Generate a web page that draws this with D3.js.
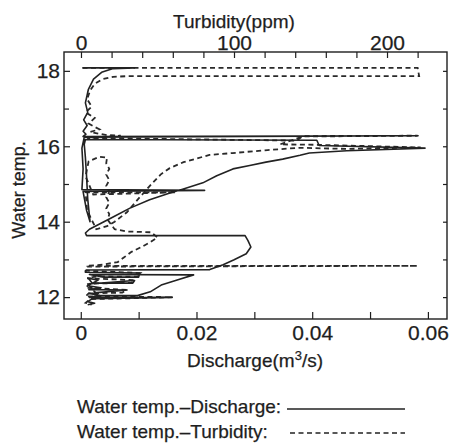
<!DOCTYPE html>
<html>
<head>
<meta charset="utf-8">
<script src="https://cdn.jsdelivr.net/npm/d3@7"></script>
<style>
  html, body { margin: 0; padding: 0; background: #fff; }
  svg { display: block; font-family: "Liberation Sans", Arial, Helvetica, sans-serif; }
  svg text { stroke: #1e1e1e; stroke-width: 0.25px; }
</style>
</head>
<body>
<div id="chart"></div>
<script>
// axis ticks
const dischargeTicks = [0, 0.02, 0.04, 0.06];
const dischargeMinor = [0.01, 0.03, 0.05];
const turbidityTicks = [0, 100, 200];
const turbidityMinor = [20, 40, 60, 80, 120, 140, 160, 180, 220];
const tempTicks = [12, 14, 16, 18];
const tempMinor = [13, 15, 17];
const tempRightTicks = [12, 13, 14, 15, 16, 17, 18];

// [discharge m3/s, water temp] in time order
const dischargeSeries = [
  [0.0003, 18.08], [0.0093, 18.08], [0.0056, 18.06], [0.0036, 17.96], [0.0022, 17.78],
  [0.0013, 17.5], [0.0008, 17.15], [0.0012, 16.9], [0.0005, 16.7], [0.0011, 16.55],
  [0.0004, 16.4], [0.0009, 16.32], [0.0004, 16.26],
  [0.0583, 16.28], [0.0006, 16.24],
  [0.0002, 15.95], [0.0004, 15.4], [0.0002, 14.85],
  [0.0214, 14.83], [0.0004, 14.8],
  [0.0010, 14.3], [0.0016, 14.0], [0.0012, 14.6], [0.0010, 15.2], [0.0008, 15.7],
  [0.0006, 16.05], [0.0008, 16.18],
  [0.0408, 16.16], [0.0412, 16.02], [0.0595, 15.95], [0.0460, 15.88], [0.0395, 15.82],
  [0.0379, 15.76], [0.0349, 15.66], [0.0320, 15.58], [0.0292, 15.49], [0.0263, 15.40],
  [0.0235, 15.22], [0.0211, 15.03], [0.0176, 14.86], [0.0154, 14.76], [0.0119, 14.58],
  [0.0085, 14.36], [0.0055, 14.12], [0.0030, 13.92], [0.0015, 13.8], [0.0008, 13.7],
  [0.0010, 13.63],
  [0.0284, 13.63], [0.0289, 13.5], [0.0294, 13.33], [0.0286, 13.15], [0.0265, 12.99],
  [0.0246, 12.86], [0.0223, 12.73], [0.0010, 12.72],
  [0.0008, 12.66], [0.0102, 12.64], [0.0100, 12.53], [0.0040, 12.53], [0.0015, 12.6],
  [0.0195, 12.59], [0.0168, 12.46], [0.0139, 12.32], [0.0120, 12.14], [0.0098, 12.04],
  [0.0030, 12.04], [0.0012, 12.35], [0.0093, 12.44], [0.0090, 12.37], [0.0020, 12.37],
  [0.0013, 12.5], [0.0030, 12.45], [0.0012, 12.3], [0.0035, 12.25], [0.0014, 12.2],
  [0.0080, 12.19], [0.0028, 12.12], [0.0014, 12.1], [0.0032, 12.05], [0.0015, 11.99],
  [0.0158, 11.99], [0.0020, 11.96], [0.0012, 11.88], [0.0024, 11.84], [0.0012, 11.8]
];

// [turbidity ppm, water temp] in time order
const turbiditySeries = [
  [1, 18.08], [220, 18.08], [221, 17.86], [30, 17.86], [21, 17.84], [14, 17.78],
  [9, 17.66], [6, 17.48], [4, 17.25], [7, 17.05], [3, 16.9], [9, 16.75], [5, 16.6],
  [12, 16.45], [6, 16.38], [16, 16.3], [26, 16.28], [10, 16.24], [4, 16.22],
  [141, 16.15], [145, 16.27], [220, 16.28], [145, 16.26], [130, 16.05], [152, 16.04],
  [222, 15.97], [174, 15.93], [143, 15.96], [122, 15.9], [99, 15.82], [84, 15.77],
  [67, 15.58], [58, 15.42], [52, 15.25], [45, 14.95], [38, 14.63], [30, 14.25],
  [22, 14.0], [17, 13.88], [10, 13.8],
  [4, 14.3], [3, 14.78], [62, 14.78], [8, 14.72], [3, 15.2], [5, 15.6], [12, 15.72],
  [17, 15.7], [16.5, 15.55], [18.5, 15.4], [16.5, 15.25], [18.5, 15.1], [16.5, 14.95],
  [18.5, 14.8], [16.5, 14.65], [18.5, 14.5], [16.5, 14.35], [18.5, 14.2], [17.5, 14.05],
  [22, 13.8], [30, 13.74], [46, 13.72],
  [50, 13.58], [45, 13.45], [40, 13.34], [33, 13.2], [28, 13.05], [24, 12.93],
  [14, 12.86], [4, 12.83], [220, 12.83], [4, 12.81],
  [3, 12.7], [39, 12.64], [37, 12.54], [10, 12.55], [4, 12.5], [35, 12.45], [33, 12.38],
  [6, 12.36], [3, 12.25], [30, 12.19], [27, 12.12], [5, 12.1], [3, 12.02], [60, 12.0],
  [32, 11.97], [6, 11.95], [3, 11.85], [7, 11.8]
];

const legendItems = [
  { label: "Water temp.\u2013Discharge:", dash: null },
  { label: "Water temp.\u2013Turbidity:", dash: "5,3.5" }
];

const W = 451, H = 446;
const plot = { left: 64, right: 447, top: 52, bottom: 319 };
const ink = "#1e1e1e";

const svg = d3.select("#chart").append("svg")
  .attr("width", W)
  .attr("height", H);

const x = d3.scaleLinear().domain([-0.0029, 0.0633]).range([plot.left, plot.right]);
const xTop = d3.scaleLinear().domain([-11.1, 239.2]).range([plot.left, plot.right]);
const y = d3.scaleLinear().domain([11.42, 18.5]).range([plot.bottom, plot.top]);

function styleAxis(g, fontSize) {
  g.select(".domain").remove();
  g.selectAll(".tick line").attr("stroke", ink).attr("stroke-width", 1.2);
  g.selectAll(".tick text")
    .attr("fill", ink)
    .style("font-size", fontSize + "px");
}

// bottom: discharge
svg.append("g")
  .attr("transform", `translate(0,${plot.bottom})`)
  .call(d3.axisBottom(x).tickValues(dischargeTicks).tickSize(-7).tickPadding(6)
    .tickFormat(d => d === 0 ? "0" : d3.format(".2f")(d)))
  .call(g => styleAxis(g, 21));
svg.append("g")
  .attr("transform", `translate(0,${plot.bottom})`)
  .call(d3.axisBottom(x).tickValues(dischargeMinor).tickSize(-7).tickFormat(""))
  .call(g => styleAxis(g, 21));

// top: turbidity
svg.append("g")
  .attr("transform", `translate(0,${plot.top})`)
  .call(d3.axisTop(xTop).tickValues(turbidityTicks).tickSize(-6).tickPadding(2))
  .call(g => styleAxis(g, 21));
svg.append("g")
  .attr("transform", `translate(0,${plot.top})`)
  .call(d3.axisTop(xTop).tickValues(turbidityMinor).tickSize(-6).tickFormat(""))
  .call(g => styleAxis(g, 21));

// left: water temp
svg.append("g")
  .attr("transform", `translate(${plot.left},0)`)
  .call(d3.axisLeft(y).tickValues(tempTicks).tickSize(-6).tickPadding(4))
  .call(g => styleAxis(g, 21));
svg.append("g")
  .attr("transform", `translate(${plot.left},0)`)
  .call(d3.axisLeft(y).tickValues(tempMinor).tickSize(-5).tickFormat(""))
  .call(g => styleAxis(g, 21));

// right: inward ticks only
svg.append("g")
  .attr("transform", `translate(${plot.right},0)`)
  .call(d3.axisLeft(y).tickValues(tempRightTicks).tickSize(4).tickFormat(""))
  .call(g => styleAxis(g, 21));

// frame
svg.append("rect")
  .attr("x", plot.left)
  .attr("y", plot.top)
  .attr("width", plot.right - plot.left)
  .attr("height", plot.bottom - plot.top)
  .attr("fill", "none")
  .attr("stroke", ink)
  .attr("stroke-width", 1.4);

svg.append("clipPath").attr("id", "plot-clip")
  .append("rect")
  .attr("x", plot.left).attr("y", plot.top)
  .attr("width", plot.right - plot.left)
  .attr("height", plot.bottom - plot.top);

const lines = svg.append("g").attr("clip-path", "url(#plot-clip)");

lines.append("path")
  .datum(turbiditySeries)
  .attr("fill", "none")
  .attr("stroke", "#2a2a2a")
  .attr("stroke-width", 1.8)
  .attr("stroke-dasharray", "5,3.5")
  .attr("d", d3.line().x(d => xTop(d[0])).y(d => y(d[1])));

lines.append("path")
  .datum(dischargeSeries)
  .attr("fill", "none")
  .attr("stroke", "#222")
  .attr("stroke-width", 1.6)
  .attr("stroke-linejoin", "round")
  .attr("d", d3.line().x(d => x(d[0])).y(d => y(d[1])));

// axis titles
svg.append("text")
  .attr("x", 234).attr("y", 28)
  .attr("text-anchor", "middle")
  .attr("fill", ink)
  .style("font-size", "19px")
  .text("Turbidity(ppm)");

const xTitle = svg.append("text")
  .attr("x", 255).attr("y", 367)
  .attr("text-anchor", "middle")
  .attr("fill", ink)
  .style("font-size", "19px");
xTitle.append("tspan").text("Discharge(m");
xTitle.append("tspan").attr("dy", -7).style("font-size", "13px").text("3");
xTitle.append("tspan").attr("dy", 7).text("/s)");

svg.append("text")
  .attr("transform", "translate(25,190) rotate(-90)")
  .attr("text-anchor", "middle")
  .attr("fill", ink)
  .style("font-size", "18px")
  .text("Water temp.");

// legend
const legend = svg.append("g").attr("transform", "translate(77,413)");
legendItems.forEach((item, i) => {
  const row = legend.append("g").attr("transform", `translate(0,${i * 25})`);
  row.append("text")
    .attr("fill", ink)
    .style("font-size", "19px")
    .text(item.label);
  row.append("line")
    .attr("x1", item.dash ? 213 : 210).attr("x2", 328)
    .attr("y1", item.dash ? -5 : -4).attr("y2", item.dash ? -5 : -4)
    .attr("stroke", "#222")
    .attr("stroke-width", item.dash ? 1.6 : 1.5)
    .attr("stroke-dasharray", item.dash);
});
</script>
</body>
</html>
